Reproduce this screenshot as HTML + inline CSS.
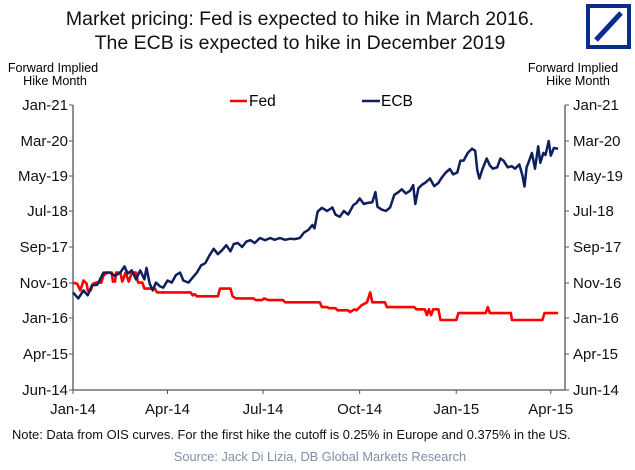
<!DOCTYPE html>
<html><head><meta charset="utf-8"><style>
body{margin:0;background:#fff;width:635px;height:465px;overflow:hidden;font-family:"Liberation Sans",Arial,sans-serif}
</style></head><body>
<svg width="635" height="465" xmlns="http://www.w3.org/2000/svg" font-family="Liberation Sans, Arial, sans-serif">
<text x="300" y="25" font-size="19.5" text-anchor="middle" fill="#111">Market pricing: Fed is expected to hike in March 2016.</text>
<text x="300" y="49" font-size="19.5" text-anchor="middle" fill="#111">The ECB is expected to hike in December 2019</text>
<g><rect x="586" y="4" width="45" height="45" fill="#0a2c8c"/><rect x="590" y="8" width="37" height="37" fill="#fff"/><line x1="596" y1="40" x2="621" y2="13" stroke="#0a2c8c" stroke-width="5"/></g>
<text x="53" y="72" font-size="12.6" text-anchor="middle"><tspan x="53">Forward Implied</tspan><tspan x="55" dy="13">Hike Month</tspan></text>
<text x="573" y="72" font-size="12.6" text-anchor="middle"><tspan x="573">Forward Implied</tspan><tspan x="578" dy="13">Hike Month</tspan></text>
<g id="axes"></g>
<g id="series"></g>
<g>
<line x1="230" y1="101" x2="247" y2="101" stroke="#f00" stroke-width="2.5"/>
<text x="249" y="106" font-size="15.5">Fed</text>
<line x1="362" y1="101" x2="380" y2="101" stroke="#0d1f5c" stroke-width="2.5"/>
<text x="381" y="106" font-size="15.5">ECB</text>
</g>
<text x="12" y="439" font-size="12.9" fill="#111">Note: Data from OIS curves. For the first hike the cutoff is 0.25% in Europe and 0.375% in the US.</text>
<text x="320" y="461" font-size="12.8" fill="#7f8fa8" text-anchor="middle">Source: Jack Di Lizia, DB Global Markets Research</text>
</svg>
<script>
const yTickLabels=["Jun-14","Apr-15","Jan-16","Nov-16","Sep-17","Jul-18","May-19","Mar-20","Jan-21"];
const yTickMonths=[5,15,24,34,44,54,64,74,84];
const xTickLabels=["Jan-14","Apr-14","Jul-14","Oct-14","Jan-15","Apr-15"];
const xTickDays=[0,90,181,273,365,455];
const fedDays=[0,4,7,10,13,14,17,19,22,27,29,33,37,38,40,41,45,47,50,53,56,60,62,66,68,78,80,112,114,116,118,138,140,150,152,155,172,174,180,182,186,200,202,235,237,242,244,250,252,262,264,268,270,275,280,283,285,297,299,325,327,335,337,339,341,343,348,350,365,367,393,395,397,417,418,447,449,462];
const fedMonths=[34.1,33.8,31.9,34.7,33.8,31.9,31.9,33.8,34.1,34.1,36.1,36.9,36.9,34.4,34.4,36.9,36.9,34.4,36.9,34.4,36.9,36.9,34.1,34.1,32.4,32.4,31.3,31.3,30.5,30.8,30.2,30.2,32.4,32.4,30.2,29.6,29.6,29.1,29.1,29.6,29.1,29.1,28.5,28.5,27.1,27.1,26.8,26.8,26.2,26.2,25.7,26.5,26.2,27.7,28.5,31.3,28.5,28.5,27.1,27.1,26.5,26.5,24.8,26.5,24.8,26.5,26.5,23.5,23.5,25.4,25.4,27.1,25.4,25.4,23.5,23.5,25.4,25.4];
const ecbDays=[0,5,10,14,18,23,29,35,40,45,49,52,56,60,64,68,70,73,76,79,83,86,90,94,98,102,105,110,113,118,122,126,130,134,138,142,146,150,153,157,161,165,169,173,178,183,188,192,197,202,207,211,216,220,224,228,230,233,237,242,247,250,254,258,262,267,270,273,277,280,285,288,290,294,298,302,306,310,313,317,321,324,326,329,332,336,340,344,348,351,355,359,362,366,369,372,376,380,383,385,387,390,394,397,400,404,407,410,414,418,421,425,428,430,432,434,437,440,443,445,448,450,453,455,458,462];
const ecbMonths=[31.3,29.6,31.9,30.5,33.3,33.5,36.9,36.9,36.0,36.9,38.6,36.6,37.5,35.0,37.5,35.0,38.2,33.8,31.9,34.1,33.0,32.7,34.7,34.1,36.2,36.9,34.7,34.1,35.2,36.9,38.9,39.5,41.7,43.5,42.0,43.1,44.5,42.8,44.8,45.1,44.0,45.5,45.9,45.1,46.5,45.9,46.5,46.0,46.5,46.0,46.3,46.2,46.5,48.0,48.7,50.1,49.2,53.8,54.9,54.0,55.0,53.0,52.4,54.0,53.0,55.7,56.3,57.6,56.0,56.3,56.5,59.4,55.2,54.4,54.0,55.0,58.6,59.4,60.2,59.0,59.8,61.4,56.0,60.5,61.4,62.2,63.3,61.1,62.0,63.5,65.0,66.0,64.5,65.0,68.4,68.4,70.6,71.8,71.2,65.6,63.3,66.0,69.0,67.0,66.1,66.5,69.0,68.4,66.5,66.8,66.1,67.3,64.2,61.0,66.5,68.0,70.6,66.1,72.5,67.8,70.6,70.0,74.0,69.8,72.0,71.8];
const X0=73,X1=565,PXDAY=1.05;
const yTickPx=[390,354,318,283,247,211,176,141,105];
function xs(d){return X0+d*PXDAY;}
function ys(m){for(let i=0;i<yTickMonths.length-1;i++){if(m<=yTickMonths[i+1]||i==yTickMonths.length-2){const a=yTickMonths[i],b=yTickMonths[i+1];return yTickPx[i]+(m-a)/(b-a)*(yTickPx[i+1]-yTickPx[i]);}}}
const NS="http://www.w3.org/2000/svg";
const ax=document.getElementById('axes'),se=document.getElementById('series');
function mk(t,a,p){const e=document.createElementNS(NS,t);for(const k in a)e.setAttribute(k,a[k]);p.appendChild(e);return e;}
let l=mk('line',{x1:X0,y1:ys(84),x2:X0,y2:ys(5),stroke:'#555','stroke-width':1.3},ax);


l=mk('line',{x1:X1,y1:ys(84),x2:X1,y2:ys(5),stroke:'#555','stroke-width':1.3},ax);


l=mk('line',{x1:X0,y1:ys(5),x2:X1,y2:ys(5),stroke:'#555','stroke-width':1.3},ax);


yTickLabels.forEach((s,i)=>{const y=ys(yTickMonths[i]);
mk('line',{x1:X0-4,y1:y,x2:X0,y2:y,stroke:'#555'},ax);mk('line',{x1:X1,y1:y,x2:X1+4,y2:y,stroke:'#555'},ax);
let t=mk('text',{x:X0-5,y:y+5,'font-size':15,'text-anchor':'end',fill:'#111'},ax);t.textContent=s;


t=mk('text',{x:X1+8,y:y+5,'font-size':15,fill:'#111'},ax);t.textContent=s;

});
xTickLabels.forEach((s,i)=>{const x=xs(xTickDays[i]);
mk('line',{x1:x,y1:ys(5),x2:x,y2:ys(5)+4,stroke:'#555'},ax);
let t=mk('text',{x:x,y:414,'font-size':15,'text-anchor':'middle',fill:'#111'},ax);t.textContent=s;

});
function line(d,m){return d.map((v,i)=>xs(v).toFixed(1)+','+ys(m[i]).toFixed(1)).join(' ');}
let p=mk('polyline',{points:line(fedDays,fedMonths),fill:'none',stroke:'#f00','stroke-width':2.6,'stroke-linejoin':'round'},se);


p=mk('polyline',{points:line(ecbDays,ecbMonths),fill:'none',stroke:'#0d1f5c','stroke-width':2.5,'stroke-linejoin':'round'},se);


</script>
</body></html>
